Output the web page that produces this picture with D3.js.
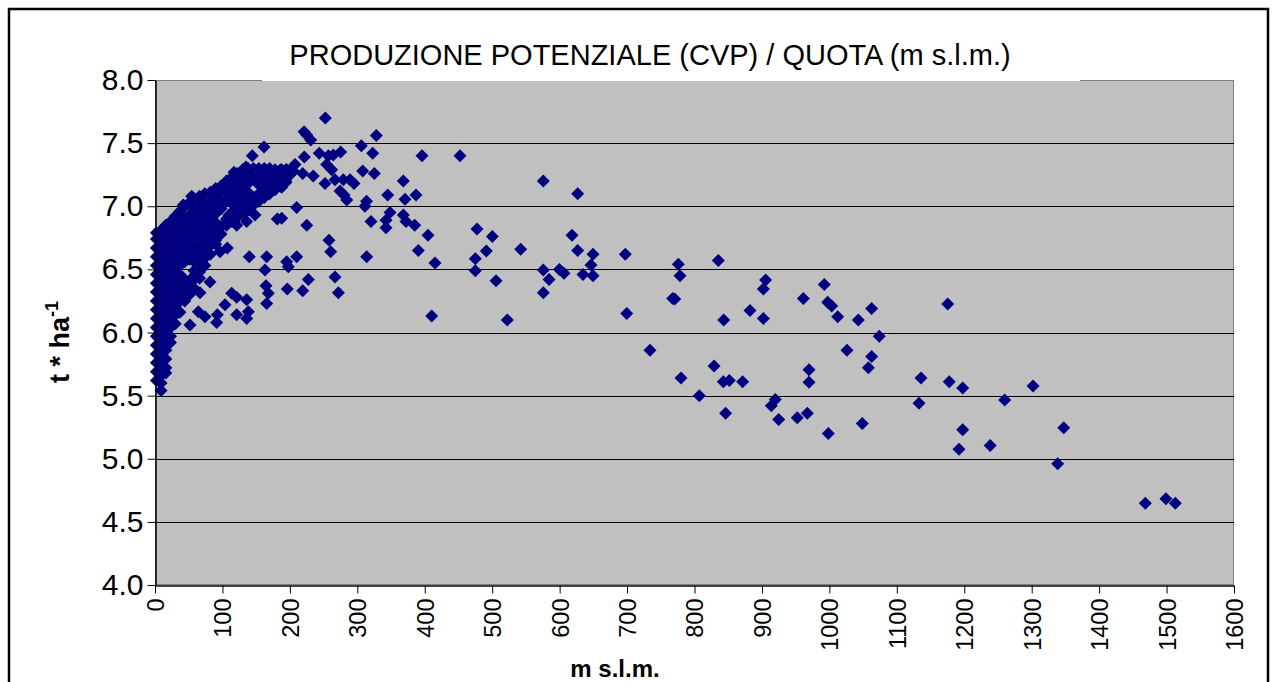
<!DOCTYPE html>
<html>
<head>
<meta charset="utf-8">
<script src="https://cdn.jsdelivr.net/npm/d3@7"></script>
<style>
  body { margin: 0; background: #fff; }
  svg { display: block; font-family: "Liberation Sans", Arial, sans-serif; }
</style>
</head>
<body>
<svg id="chart"></svg>
<script>
const width = 1274;
const height = 682;

const titolo = "PRODUZIONE POTENZIALE (CVP) / QUOTA (m s.l.m.)";
const xTicks = d3.range(0, 1601, 100);
const yTicks = [4.0, 4.5, 5.0, 5.5, 6.0, 6.5, 7.0, 7.5, 8.0];

// dense cluster of low quotas, read column by column: [quota, [cvp...]]
const colonnePianura = [
  [2,   [5.62, 5.69, 5.76, 5.83, 5.90, 5.97, 6.04, 6.11, 6.18, 6.25, 6.32, 6.39, 6.46, 6.53, 6.60, 6.67, 6.74, 6.79]],
  [9,   [5.54, 5.60, 5.66, 5.73, 5.80, 5.87, 5.94, 6.01, 6.08, 6.15, 6.22, 6.29, 6.36, 6.43, 6.50, 6.57, 6.64, 6.71, 6.78, 6.81]],
  [16,  [5.68, 5.72, 5.79, 5.86, 5.93, 6.00, 6.07, 6.14, 6.21, 6.28, 6.35, 6.42, 6.49, 6.56, 6.63, 6.70, 6.77, 6.85]],
  [23,  [5.92, 5.97, 6.04, 6.11, 6.18, 6.25, 6.32, 6.39, 6.46, 6.53, 6.60, 6.67, 6.74, 6.81, 6.88]],
  [30,  [6.07, 6.14, 6.21, 6.28, 6.35, 6.42, 6.49, 6.56, 6.63, 6.70, 6.77, 6.84, 6.92]],
  [37,  [6.16, 6.25, 6.32, 6.39, 6.46, 6.53, 6.60, 6.67, 6.74, 6.81, 6.88, 6.96]],
  [44,  [6.25, 6.28, 6.35, 6.42, 6.56, 6.63, 6.70, 6.77, 6.84, 6.91, 7.00]],
  [51,  [6.30, 6.37, 6.58, 6.65, 6.72, 6.79, 6.86, 6.93, 7.03]],
  [58,  [6.35, 6.42, 6.49, 6.56, 6.63, 6.70, 6.77, 6.84, 6.91, 6.98, 7.06]],
  [66,  [6.43, 6.48, 6.55, 6.62, 6.69, 6.76, 6.83, 6.90, 6.97, 7.04, 7.08]],
  [74,  [6.53, 6.59, 6.66, 6.73, 6.80, 6.87, 6.94, 7.01, 7.10]],
  [82,  [6.62, 6.69, 6.76, 6.83, 6.90, 6.97, 7.04, 7.11]],
  [90,  [6.70, 6.73, 6.80, 6.87, 6.94, 7.01, 7.08, 7.14]],
  [98,  [6.78, 6.84, 6.98, 7.05, 7.12, 7.16]],
  [106, [6.85, 6.90, 7.04, 7.11, 7.20]],
  [114, [6.88, 6.95, 7.02, 7.09, 7.16, 7.23]],
  [122, [6.91, 6.98, 7.05, 7.12, 7.19, 7.26]],
  [130, [6.94, 7.01, 7.08, 7.15, 7.22, 7.29]],
  [138, [6.97, 7.04, 7.11, 7.18, 7.25, 7.30]],
  [146, [7.01, 7.07, 7.21, 7.30]],
  [154, [7.04, 7.10, 7.17, 7.24, 7.30]],
  [162, [7.07, 7.14, 7.21, 7.30]],
  [170, [7.10, 7.17, 7.24, 7.30]],
  [178, [7.13, 7.20, 7.29]],
  [186, [7.16, 7.23, 7.29]],
  [194, [7.21, 7.29]],
  [202, [7.26, 7.29]]
];

// scattered points, 40 - 400 m
const puntiCollina = [
  [161.6, 7.47], [144.3, 7.40], [117.1, 7.27], [134.9, 7.31], [54.4, 7.08], [42, 7.01],
  [109.7, 6.93], [136, 6.88], [148.3, 6.93], [121.1, 6.85], [181.4, 6.90], [96.4, 6.64],
  [107.2, 6.67], [139.8, 6.60], [165.6, 6.60], [163.1, 6.495], [54.4, 6.43], [66.7, 6.315],
  [81.6, 6.40], [113.7, 6.31], [121.1, 6.28], [136, 6.26], [164.6, 6.37], [168, 6.31],
  [165.6, 6.23], [64.2, 6.165], [74.1, 6.125], [92.4, 6.14], [91.5, 6.08], [103.8, 6.22],
  [121.1, 6.14], [138.4, 6.165], [136, 6.11], [51.9, 6.06],
  [252.6, 7.70], [221, 7.59], [225, 7.565], [230.9, 7.525], [328.2, 7.56], [305.9, 7.48],
  [322.8, 7.42], [221.4, 7.39], [243.6, 7.42], [257, 7.40], [264.4, 7.405], [275.3, 7.43],
  [254.6, 7.33], [262, 7.29], [187.9, 7.29], [195.3, 7.29], [207.6, 7.33], [205.1, 7.28],
  [219, 7.26], [234.7, 7.24], [308, 7.28], [325.2, 7.26], [252.1, 7.18], [266.9, 7.21],
  [279.2, 7.21], [289.2, 7.21], [295.1, 7.18], [194.3, 7.19], [187.9, 7.15], [274.3, 7.12],
  [280.3, 7.09], [284.3, 7.05], [345, 7.09], [313.7, 7.04], [311.3, 7.00], [210.1, 6.99],
  [348.5, 6.95], [342.5, 6.89], [342.5, 6.83], [320.3, 6.88], [225, 6.85], [187.9, 6.905],
  [258, 6.73], [260.5, 6.64], [313.9, 6.60], [210.1, 6.60], [195.3, 6.56], [197.7, 6.52],
  [227.3, 6.42], [196.2, 6.345], [219, 6.33], [266.9, 6.44], [271.9, 6.315]
];

// scattered points, 360 - 1520 m
const puntiMontagna = [
  [395.9, 7.40], [452.3, 7.40], [368.2, 7.20], [387, 7.09], [370.7, 7.055], [575.8, 7.20],
  [626.8, 7.10], [368.2, 6.93], [372.2, 6.88], [385.1, 6.85], [404.8, 6.77], [390.5, 6.65],
  [415.2, 6.55], [477.5, 6.82], [500.2, 6.76], [491.3, 6.645], [475, 6.585], [475, 6.49],
  [505.7, 6.41], [542.3, 6.66], [410.3, 6.13], [522.4, 6.10], [575.8, 6.495], [584.3, 6.42],
  [599.6, 6.50], [606.5, 6.47], [575.8, 6.315], [618.4, 6.77], [626.8, 6.65], [649.5, 6.62],
  [646.5, 6.535], [634.7, 6.46], [649.5, 6.45], [697.4, 6.62], [699.5, 6.15], [776, 6.54],
  [778.5, 6.45], [767.7, 6.27], [770.6, 6.265], [734, 5.86], [780, 5.64],
  [835.3, 6.57], [905.5, 6.416], [902.1, 6.345], [961.4, 6.27], [992.5, 6.38], [997.5, 6.24],
  [1003.4, 6.21], [1012.3, 6.125], [1062.7, 6.19], [1042.9, 6.10], [843.3, 6.10], [882.3, 6.175],
  [902.1, 6.11], [1175.4, 6.225], [1074, 5.97], [1026.1, 5.86], [1062.7, 5.81], [1057.8, 5.72],
  [829, 5.735], [842.7, 5.61], [851.6, 5.62], [871.4, 5.61], [807.1, 5.50], [969.8, 5.705],
  [969.8, 5.605], [846.2, 5.36], [919.8, 5.47], [913.9, 5.42], [924.8, 5.31], [952.4, 5.325],
  [967.3, 5.36], [998.4, 5.20], [1048.8, 5.28], [1135.9, 5.64], [1132.9, 5.44], [1177.8, 5.61],
  [1197.7, 5.56], [1197.7, 5.23], [1192.2, 5.075], [1238.5, 5.105], [1260, 5.465], [1302, 5.576],
  [1347.5, 5.246], [1338.6, 4.96], [1468.5, 4.647], [1499.1, 4.684], [1513, 4.647]
];

const punti = colonnePianura
  .flatMap(([q, vals]) => vals.map(v => [q, v]))
  .concat(puntiCollina, puntiMontagna);

const svg = d3.select("#chart")
  .attr("width", width)
  .attr("height", height);

// outer chart border
svg.append("rect")
  .attr("x", 9).attr("y", 9)
  .attr("width", 1259).attr("height", 700)
  .attr("fill", "#fff")
  .attr("stroke", "#000")
  .attr("stroke-width", 2.5);

const plot = { left: 155, right: 1234, top: 80, bottom: 585 };

const xScale = d3.scaleLinear().domain([0, 1600]).range([plot.left, plot.right]);
const yScale = d3.scaleLinear().domain([4, 8]).range([plot.bottom, plot.top]);

// plot area
svg.append("rect")
  .attr("x", plot.left + 0.5).attr("y", plot.top + 0.5)
  .attr("width", plot.right - plot.left - 1).attr("height", plot.bottom - plot.top - 1)
  .attr("fill", "#c0c0c0")
  .attr("stroke", "#808080")
  .attr("stroke-width", 1);

// gridlines
svg.append("g")
  .selectAll("line")
  .data(yTicks.filter(d => d > 4 && d < 8))
  .enter()
  .append("line")
  .attr("x1", plot.left).attr("x2", plot.right)
  .attr("y1", d => Math.round(yScale(d)) + 0.5)
  .attr("y2", d => Math.round(yScale(d)) + 0.5)
  .attr("stroke", "#000")
  .attr("stroke-width", 1);

// markers
svg.append("g")
  .selectAll("path")
  .data(punti)
  .enter()
  .append("path")
  .attr("transform", d => `translate(${xScale(d[0])},${yScale(d[1])})`)
  .attr("d", "M0,-6.5L6.5,0L0,6.5L-6.5,0Z")
  .attr("fill", "#000080");

// Y axis
const yAxis = d3.axisLeft(yScale)
  .tickValues(yTicks)
  .tickFormat(d3.format(".1f"))
  .tickSize(8)
  .tickSizeOuter(0)
  .tickPadding(4);

const gy = svg.append("g")
  .attr("transform", `translate(${plot.left + 0.5},0)`)
  .call(yAxis);
gy.selectAll("text")
  .attr("font-size", 30)
  .attr("font-family", "Liberation Sans, Arial, sans-serif")
  .attr("fill", "#000");

// X axis
const xAxis = d3.axisBottom(xScale)
  .tickValues(xTicks)
  .tickFormat(d3.format("d"))
  .tickSize(8)
  .tickSizeOuter(0);

const gx = svg.append("g")
  .attr("transform", `translate(0,${plot.bottom + 0.5})`)
  .call(xAxis);
gx.selectAll("text")
  .attr("font-size", 23.5)
  .attr("font-family", "Liberation Sans, Arial, sans-serif")
  .attr("fill", "#000")
  .attr("transform", "rotate(-90)")
  .attr("text-anchor", "end")
  .attr("x", -13)
  .attr("y", 0)
  .attr("dy", "0.36em");

[gx, gy].forEach(g => {
  g.select(".domain").attr("stroke", "#000").attr("stroke-width", 1.5);
  g.selectAll(".tick line").attr("stroke", "#000").attr("stroke-width", 1);
});

// title, with its white box over the plot border
svg.append("rect")
  .attr("x", 262).attr("y", 30)
  .attr("width", 818).attr("height", 51)
  .attr("fill", "#fff");

svg.append("text")
  .attr("x", 650).attr("y", 65)
  .attr("text-anchor", "middle")
  .attr("font-size", 29)
  .attr("fill", "#000")
  .text(titolo);

// axis titles
svg.append("text")
  .attr("x", 615).attr("y", 677)
  .attr("text-anchor", "middle")
  .attr("font-size", 24)
  .attr("font-weight", "bold")
  .text("m s.l.m.");

const yTitle = svg.append("text")
  .attr("transform", "translate(69,342) rotate(-90)")
  .attr("text-anchor", "middle")
  .attr("font-size", 27)
  .attr("font-weight", "bold");
yTitle.append("tspan").text("t * ha");
yTitle.append("tspan")
  .attr("dy", -11)
  .attr("font-size", 18)
  .text("-1");
</script>
</body>
</html>
